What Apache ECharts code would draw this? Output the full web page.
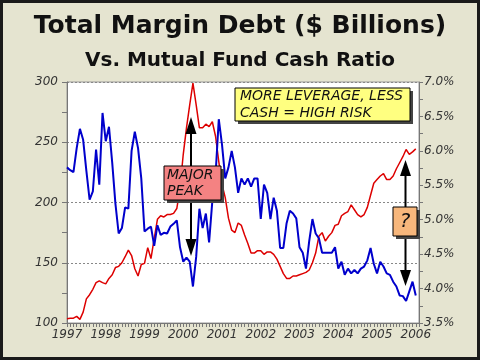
<!DOCTYPE html>
<html>
<head>
<meta charset="utf-8">
<script src="https://cdn.jsdelivr.net/npm/echarts@6/dist/echarts.min.js"></script>
<style>
html,body{margin:0;padding:0;background:#E5E4D0;}
#c{width:480px;height:360px;}
</style>
</head>
<body>
<div id="c"></div>
<script>
// ---- data ----
var years = ['1997','1998','1999','2000','2001','2002','2003','2004','2005','2006'];
// Total margin debt, $ billions, monthly from Jan 1997
var marginDebt = [
103.5,104,104,105.5,103,109,120,123.5,128,133.5,135,133.5,
132.5,137,140,146,147,150,155,160.5,156,145,139,148.5,
149.5,162.5,153.5,170,186,189,188,190,190,191,195,212,
240,262,281,299,281,262,262,265,263,267,255,234,
215,204,187,177,175,183,181,173,166,158,158,160,
160,157,159,159,157,153,147,141,137,137,139,139,
140,141,142,144,150,158,172,175,168,172,175,181,
182,189,191,192.5,198,194,190,188,190,196,206,216,
219,222,224,219,219,222,228,233,238,244,240,242,
244.5
];
// Mutual fund cash ratio, %, monthly from Jan 1997
var cashRatio = [
5.76,5.72,5.69,6.04,6.32,6.16,5.71,5.29,5.41,6.02,5.51,6.55,
6.14,6.35,5.83,5.23,4.80,4.88,5.18,5.16,6.00,6.28,6.04,5.60,
4.83,4.87,4.90,4.62,4.92,4.78,4.81,4.80,4.90,4.94,4.99,4.60,
4.39,4.45,4.39,4.03,4.46,5.16,4.88,5.09,4.67,5.27,5.65,6.46,
6.09,5.60,5.76,6.00,5.76,5.39,5.60,5.51,5.60,5.48,5.60,5.60,
5.01,5.51,5.39,5.01,5.32,5.13,4.59,4.59,4.95,5.13,5.09,5.02,
4.60,4.52,4.29,4.69,5.01,4.80,4.73,4.52,4.52,4.52,4.52,4.60,
4.29,4.39,4.20,4.29,4.22,4.27,4.22,4.29,4.32,4.41,4.59,4.36,
4.22,4.39,4.32,4.22,4.20,4.10,4.03,3.90,3.89,3.82,3.96,4.10,
3.90
];
var leftTicks = {min:100, max:300, step:50};
var rightTicks = {min:3.5, max:7.0, step:0.5};

// month categories Jan 1997 .. Feb 2006
var months = [];
for (var y = 0; y < years.length; y++) {
  for (var mo = 1; mo <= 12; mo++) {
    months.push(years[y] + '-' + (mo < 10 ? '0' + mo : mo));
    if (y === years.length - 1 && mo === 2) break;
  }
}

var chart = echarts.init(document.getElementById('c'), null, {renderer:'canvas'});
var lab = {fontFamily:'DejaVu Sans', fontStyle:'italic', fontSize:12, color:'#333'};
var axisCol = '#777';

var option = {
  backgroundColor:'#E5E4D0',
  animation:false,
  title:[
    {text:'Total Margin Debt ($ Billions)', left:'center', top:9,
     textStyle:{fontFamily:'DejaVu Sans', fontWeight:'bold', fontSize:25, color:'#111'}},
    {text:'Vs. Mutual Fund Cash Ratio', left:'center', top:46,
     textStyle:{fontFamily:'DejaVu Sans', fontWeight:'bold', fontSize:20, color:'#111'}}
  ],
  grid:{left:67, right:61, top:82, bottom:37, show:true, backgroundColor:'#fff',
        borderColor:'#999', borderWidth:1},
  xAxis:{
    type:'category', data:months, boundaryGap:false,
    axisLine:{lineStyle:{color:axisCol}},
    axisTick:{interval:0, length:4, lineStyle:{color:axisCol}},
    axisLabel:Object.assign({}, lab, {
      margin:6,
      interval:function(i){ return i % 12 === 0; },
      formatter:function(v){ return v.slice(0,4); }
    }),
    splitLine:{show:false}
  },
  yAxis:[
    {type:'value', min:leftTicks.min, max:leftTicks.max, interval:leftTicks.step, position:'left',
     axisLine:{show:true, lineStyle:{color:axisCol}},
     axisTick:{show:true, length:5, lineStyle:{color:axisCol}},
     minorTick:{show:true, splitNumber:2, length:5, lineStyle:{color:axisCol}},
     axisLabel:Object.assign({}, lab, {margin:9}),
     splitLine:{show:true, lineStyle:{color:'#888', type:[2,2], width:1}}
    },
    {type:'value', min:rightTicks.min, max:rightTicks.max, interval:rightTicks.step, position:'right',
     axisLine:{show:true, lineStyle:{color:axisCol}},
     axisTick:{show:true, length:4, lineStyle:{color:axisCol}},
     minorTick:{show:true, splitNumber:2, length:4, lineStyle:{color:axisCol}},
     axisLabel:Object.assign({}, lab, {margin:5, formatter:function(v){return v.toFixed(1)+'%';}}),
     splitLine:{show:false}
    }
  ],
  series:[
    {name:'Margin Debt', type:'line', yAxisIndex:0, data:marginDebt, symbol:'none',
     lineStyle:{color:'#DD0000', width:1.5}},
    {name:'Cash Ratio', type:'line', yAxisIndex:1, data:cashRatio, symbol:'none',
     lineStyle:{color:'#0000CC', width:2}}
  ],
  graphic:[
    // arrows
    {type:'line', shape:{x1:191, y1:130, x2:191, y2:244}, style:{stroke:'#000', lineWidth:2}, z:100},
    {type:'polygon', shape:{points:[[191,117],[185.5,134],[196.5,134]]}, style:{fill:'#000'}, z:100},
    {type:'polygon', shape:{points:[[185.5,239],[196.5,239],[191,256]]}, style:{fill:'#000'}, z:100},
    {type:'line', shape:{x1:405.5, y1:172, x2:405.5, y2:274}, style:{stroke:'#000', lineWidth:2}, z:100},
    {type:'polygon', shape:{points:[[405.5,160],[400,176],[411,176]]}, style:{fill:'#000'}, z:100},
    {type:'polygon', shape:{points:[[400,270],[411,270],[405.5,286]]}, style:{fill:'#000'}, z:100},
    // yellow box
    {type:'rect', shape:{x:238, y:91, width:175, height:33}, style:{fill:'#444'}, z:101},
    {type:'rect', shape:{x:235, y:88, width:175, height:33}, style:{fill:'#FFFF80', stroke:'#000', lineWidth:1}, z:102},
    {type:'text', style:{text:'MORE LEVERAGE, LESS', x:240, y:96.5, verticalAlign:'middle',
      font:'italic 14px "DejaVu Sans"', fill:'#111'}, z:103},
    {type:'text', style:{text:'CASH = HIGH RISK', x:240, y:113, verticalAlign:'middle',
      font:'italic 14px "DejaVu Sans"', fill:'#111'}, z:103},
    // pink box
    {type:'rect', shape:{x:167, y:169, width:57, height:34}, style:{fill:'#444'}, z:101},
    {type:'rect', shape:{x:164, y:166, width:57, height:34}, style:{fill:'#F48282', stroke:'#000', lineWidth:1}, z:102},
    {type:'text', style:{text:'MAJOR', x:167, y:175.5, verticalAlign:'middle',
      font:'italic 14px "DejaVu Sans"', fill:'#111'}, z:103},
    {type:'text', style:{text:'PEAK', x:167, y:191.5, verticalAlign:'middle',
      font:'italic 14px "DejaVu Sans"', fill:'#111'}, z:103},
    // orange box
    {type:'rect', shape:{x:396, y:210, width:24, height:29}, style:{fill:'#444'}, z:101},
    {type:'rect', shape:{x:393, y:207, width:24, height:29}, style:{fill:'#F7B77C', stroke:'#000', lineWidth:1}, z:102},
    {type:'text', style:{text:'?', x:405, y:221.5, align:'center', verticalAlign:'middle',
      font:'italic 20px "DejaVu Sans"', fill:'#111'}, z:103},
    // outer frame
    {type:'rect', shape:{x:1.5, y:1.5, width:477, height:357}, style:{fill:'none', stroke:'#1a1a1a', lineWidth:3}, z:110}
  ]
};
chart.setOption(option);
</script>
</body>
</html>
